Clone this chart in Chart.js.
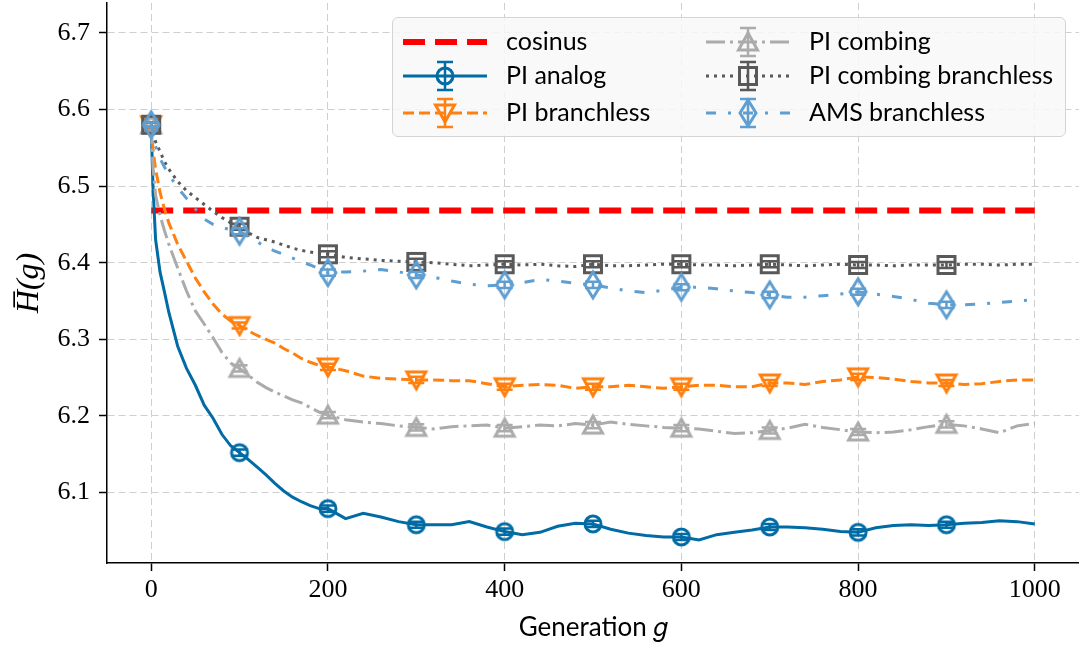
<!DOCTYPE html>
<html>
<head>
<meta charset="utf-8">
<script src="https://cdn.jsdelivr.net/npm/chart.js@4.4.1/dist/chart.umd.min.js"></script>
<style>
  body { margin: 0; background: #fff; }
  #wrap { position: relative; width: 1079px; height: 645px; }
  #legend {
    position: absolute; left: 392px; top: 17px; width: 672px; height: 118px;
    background: rgba(248, 248, 248, 0.85); border: 1.5px solid #d4d4d4; border-radius: 6px;
    font-family: Lato, sans-serif; font-size: 25px; color: #000;
  }
  .item { position: absolute; height: 40px; display: flex; align-items: center; }
  .item span { margin-left: 18px; white-space: nowrap; position: relative; top: -2px; }
</style>
</head>
<body>
<div id="wrap">
  <canvas id="chart" width="1079" height="645"></canvas>
  <div id="legend"></div>
</div>
<script>
const gens = [0, 2, 5, 10, 15, 20, 30, 40, 50, 60, 70, 80, 90, 100, 110, 120, 130, 140, 150,
  160, 170, 180, 190, 200, 220, 240, 260, 280, 300, 320, 340, 360, 380, 400, 420, 440, 460,
  480, 500, 520, 540, 560, 580, 600, 620, 640, 660, 680, 700, 720, 740, 760, 780, 800, 820,
  840, 860, 880, 900, 920, 940, 960, 980, 1000];

const piAnalog = [6.580, 6.500, 6.430, 6.388, 6.362, 6.335, 6.291, 6.262, 6.240, 6.214, 6.197,
  6.176, 6.161, 6.152, 6.143, 6.133, 6.123, 6.112, 6.102, 6.094, 6.088, 6.083, 6.079, 6.079,
  6.066, 6.073, 6.068, 6.062, 6.058, 6.058, 6.058, 6.062, 6.055, 6.049, 6.045, 6.048, 6.056,
  6.060, 6.059, 6.052, 6.047, 6.044, 6.042, 6.042, 6.038, 6.045, 6.048, 6.051, 6.055, 6.055,
  6.054, 6.052, 6.049, 6.048, 6.054, 6.057, 6.058, 6.057, 6.058, 6.060, 6.061, 6.063, 6.062, 6.059];

const piBranchless = [6.580, 6.548, 6.522, 6.492, 6.470, 6.452, 6.424, 6.402, 6.380, 6.362, 6.346,
  6.333, 6.324, 6.318, 6.311, 6.305, 6.300, 6.295, 6.288, 6.282, 6.275, 6.270, 6.266, 6.264,
  6.259, 6.252, 6.249, 6.248, 6.247, 6.247, 6.246, 6.246, 6.242, 6.238, 6.240, 6.241, 6.240,
  6.236, 6.238, 6.238, 6.240, 6.238, 6.236, 6.238, 6.240, 6.240, 6.238, 6.238, 6.243, 6.243,
  6.241, 6.245, 6.247, 6.251, 6.250, 6.248, 6.245, 6.243, 6.243, 6.241, 6.242, 6.245, 6.247, 6.247];

const piCombing = [6.580, 6.525, 6.488, 6.462, 6.442, 6.424, 6.393, 6.363, 6.337, 6.320, 6.302,
  6.283, 6.269, 6.262, 6.253, 6.244, 6.237, 6.231, 6.226, 6.221, 6.217, 6.211, 6.205, 6.201,
  6.195, 6.192, 6.190, 6.187, 6.185, 6.183, 6.186, 6.187, 6.188, 6.184, 6.186, 6.188, 6.187,
  6.190, 6.188, 6.192, 6.189, 6.187, 6.185, 6.184, 6.183, 6.180, 6.177, 6.178, 6.181, 6.184,
  6.189, 6.185, 6.182, 6.179, 6.178, 6.179, 6.182, 6.186, 6.189, 6.187, 6.183, 6.178, 6.187, 6.190];

const piCombingBranchless = [6.580, 6.570, 6.558, 6.545, 6.532, 6.522, 6.506, 6.494, 6.485, 6.476,
  6.467, 6.459, 6.452, 6.447, 6.439, 6.433, 6.430, 6.427, 6.423, 6.419, 6.416, 6.414, 6.412, 6.411,
  6.407, 6.405, 6.403, 6.402, 6.401, 6.400, 6.398, 6.396, 6.397, 6.398, 6.397, 6.398, 6.396,
  6.395, 6.398, 6.396, 6.396, 6.397, 6.398, 6.398, 6.397, 6.397, 6.396, 6.397, 6.398, 6.397,
  6.396, 6.397, 6.398, 6.397, 6.397, 6.396, 6.397, 6.397, 6.397, 6.398, 6.398, 6.397, 6.398, 6.398];

const amsBranchless = [6.580, 6.568, 6.552, 6.536, 6.525, 6.515, 6.498, 6.484, 6.470, 6.457, 6.450,
  6.446, 6.443, 6.441, 6.434, 6.427, 6.421, 6.415, 6.411, 6.406, 6.401, 6.397, 6.392, 6.387,
  6.388, 6.389, 6.391, 6.388, 6.384, 6.381, 6.376, 6.372, 6.370, 6.371, 6.374, 6.378, 6.376,
  6.373, 6.371, 6.367, 6.363, 6.361, 6.364, 6.368, 6.368, 6.366, 6.363, 6.361, 6.358, 6.355,
  6.355, 6.357, 6.359, 6.362, 6.359, 6.356, 6.352, 6.347, 6.345, 6.345, 6.346, 6.348, 6.350, 6.352];

const cosGens = [0, 1000];
const cosinus = [6.468, 6.468];

// error bars at the marked generations
const markerGens = [0, 100, 200, 300, 400, 500, 600, 700, 800, 900];
const errAnalog = [0.003, 0.004, 0.004, 0.004, 0.004, 0.004, 0.004, 0.004, 0.004, 0.004];
const errBranchless = [0.003, 0.004, 0.004, 0.004, 0.004, 0.004, 0.004, 0.004, 0.004, 0.004];
const errCombing = [0.003, 0.004, 0.004, 0.004, 0.004, 0.004, 0.004, 0.004, 0.004, 0.004];
const errCombingBranchless = [0.003, 0.004, 0.004, 0.004, 0.004, 0.004, 0.004, 0.004, 0.004, 0.004];
const errAms = [0.003, 0.004, 0.004, 0.004, 0.004, 0.004, 0.004, 0.004, 0.004, 0.004];

const xTicks = [0, 200, 400, 600, 800, 1000];
const yTicks = [6.1, 6.2, 6.3, 6.4, 6.5, 6.6, 6.7];

function makeMarker(shape, color) {
  const c = document.createElement('canvas');
  c.width = 30; c.height = 36;
  const g = c.getContext('2d');
  const cx = 15, cy = 18;
  g.strokeStyle = color;
  g.lineWidth = 3;
  g.beginPath();
  if (shape === 'o') g.arc(cx, cy, 8, 0, 2 * Math.PI);
  if (shape === 's') g.rect(cx - 8.5, cy - 8.5, 17, 17);
  if (shape === '^') { g.moveTo(cx, cy - 9); g.lineTo(cx + 9.5, cy + 8); g.lineTo(cx - 9.5, cy + 8); g.closePath(); }
  if (shape === 'v') { g.moveTo(cx, cy + 9); g.lineTo(cx + 9.5, cy - 8); g.lineTo(cx - 9.5, cy - 8); g.closePath(); }
  if (shape === 'd') { g.moveTo(cx, cy - 13); g.lineTo(cx + 8, cy); g.lineTo(cx, cy + 13); g.lineTo(cx - 8, cy); g.closePath(); }
  g.stroke();
  return c;
}

const series = [
  { label: 'PI analog', y: piAnalog, err: errAnalog, color: '#006BA4', dash: [], marker: 'o' },
  { label: 'PI branchless', y: piBranchless, err: errBranchless, color: '#FF800E', dash: [11, 5], marker: 'v' },
  { label: 'PI combing', y: piCombing, err: errCombing, color: '#ABABAB', dash: [19, 5, 3, 5], marker: '^' },
  { label: 'PI combing branchless', y: piCombingBranchless, err: errCombingBranchless, color: '#595959', dash: [3, 5], marker: 's' },
  { label: 'AMS branchless', y: amsBranchless, err: errAms, color: '#5F9ED1', dash: [10, 12, 3, 12], marker: 'd' }
];

const datasets = [{
  label: 'cosinus',
  data: cosGens.map((g, i) => ({ x: g, y: cosinus[i] })),
  borderColor: '#FF0000', borderWidth: 6, borderDash: [22, 10],
  pointRadius: 0, order: 10
}];
series.forEach((s, k) => {
  s.img = makeMarker(s.marker, s.color);
  datasets.push({
    label: s.label,
    data: gens.map((g, i) => ({ x: g, y: s.y[i] })),
    borderColor: s.color, borderWidth: 3, borderDash: s.dash,
    pointStyle: s.img,
    pointRadius: c => (c.raw && c.raw.x % 100 === 0 && c.raw.x < 1000) ? 8 : 0,
    pointHoverRadius: 0,
    errors: s.err, order: 9 - k
  });
});

const errorBars = {
  id: 'errorBars',
  afterDatasetDraw(chart, args) {
    const ds = chart.data.datasets[args.index];
    if (!ds.errors) return;
    const ctx = chart.ctx, xs = chart.scales.x, ys = chart.scales.y;
    ctx.save();
    ctx.strokeStyle = ds.borderColor;
    ctx.lineWidth = 2.5;
    ctx.setLineDash([]);
    markerGens.forEach((g, i) => {
      const v = ds.data.find(p => p.x === g).y;
      const px = xs.getPixelForValue(g);
      const top = ys.getPixelForValue(v + ds.errors[i]);
      const bot = ys.getPixelForValue(v - ds.errors[i]);
      ctx.beginPath();
      ctx.moveTo(px, top); ctx.lineTo(px, bot);
      ctx.moveTo(px - 8, top); ctx.lineTo(px + 8, top);
      ctx.moveTo(px - 8, bot); ctx.lineTo(px + 8, bot);
      ctx.stroke();
    });
    ctx.restore();
  }
};

const ctx = document.getElementById('chart').getContext('2d');
const chart = new Chart(ctx, {
  type: 'line',
  data: { datasets: datasets },
  options: {
    responsive: false,
    animation: false,
    layout: { autoPadding: false, padding: { top: 3, right: 0, left: 0, bottom: 0 } },
    elements: { line: { tension: 0, fill: false } },
    plugins: { legend: { display: false }, tooltip: { enabled: false } },
    scales: {
      x: {
        type: 'linear', min: -50, max: 1050,
        afterBuildTicks: s => { s.ticks = xTicks.map(v => ({ value: v })); },
        afterFit: s => { s.height = 82; s.paddingLeft = 0; s.paddingRight = 0; },
        ticks: { color: '#000', font: { family: 'Liberation Serif', size: 26 }, padding: 4, maxRotation: 0, callback: v => String(v) },
        grid: { color: '#cfcfcf', lineWidth: 1, tickColor: '#000', tickWidth: 1.5, tickLength: 8 },
        border: { color: '#000', width: 1.5, dash: [7, 4] },
        title: { display: true, text: 'Generation 𝑔', color: '#000', font: { family: 'Lato', size: 26 }, padding: { top: 0, bottom: 2 } }
      },
      y: {
        type: 'linear', min: 6.008, max: 6.739,
        afterBuildTicks: s => { s.ticks = yTicks.map(v => ({ value: v })); },
        afterFit: s => { s.width = 107; s.paddingTop = 0; s.paddingBottom = 0; },
        ticks: { color: '#000', font: { family: 'Liberation Serif', size: 26 }, padding: 9, callback: v => v.toFixed(1) },
        grid: { color: '#cfcfcf', lineWidth: 1, tickColor: '#000', tickWidth: 1.5, tickLength: 8 },
        border: { color: '#000', width: 1.5, dash: [7, 4] },
        title: { display: true, text: 'H\u0305(g)', color: '#000', font: { family: 'Liberation Serif', size: 32, style: 'italic' }, padding: { top: 10, bottom: 0 } }
      }
    }
  },
  plugins: [errorBars]
});

// legend drawn as html, two columns like the original
const legend = document.getElementById('legend');
const legendItems = [
  { label: 'cosinus', color: '#FF0000', dash: [22, 10], width: 6, col: 0, row: 0 },
  Object.assign({ col: 0, row: 1, width: 3 }, series[0]),
  Object.assign({ col: 0, row: 2, width: 3 }, series[1]),
  Object.assign({ col: 1, row: 0, width: 3 }, series[2]),
  Object.assign({ col: 1, row: 1, width: 3 }, series[3]),
  Object.assign({ col: 1, row: 2, width: 3 }, series[4])
];
const rowY = [24, 58, 95];
const colX = [9, 312];
legendItems.forEach(it => {
  const div = document.createElement('div');
  div.className = 'item';
  div.style.left = colX[it.col] + 'px';
  div.style.top = (rowY[it.row] - 20) + 'px';
  const c = document.createElement('canvas');
  c.width = 86; c.height = 40;
  const g = c.getContext('2d');
  g.strokeStyle = it.color;
  g.lineWidth = it.width;
  g.setLineDash(it.dash);
  g.beginPath(); g.moveTo(1, 20); g.lineTo(85, 20); g.stroke();
  g.setLineDash([]);
  if (it.img) {
    g.lineWidth = 2.5;
    g.beginPath();
    g.moveTo(43, 6); g.lineTo(43, 34);
    g.moveTo(35, 6); g.lineTo(51, 6);
    g.moveTo(35, 34); g.lineTo(51, 34);
    g.stroke();
    g.drawImage(it.img, 43 - it.img.width / 2, 20 - it.img.height / 2);
  }
  const span = document.createElement('span');
  span.textContent = it.label;
  div.appendChild(c);
  div.appendChild(span);
  legend.appendChild(div);
});
</script>
</body>
</html>
